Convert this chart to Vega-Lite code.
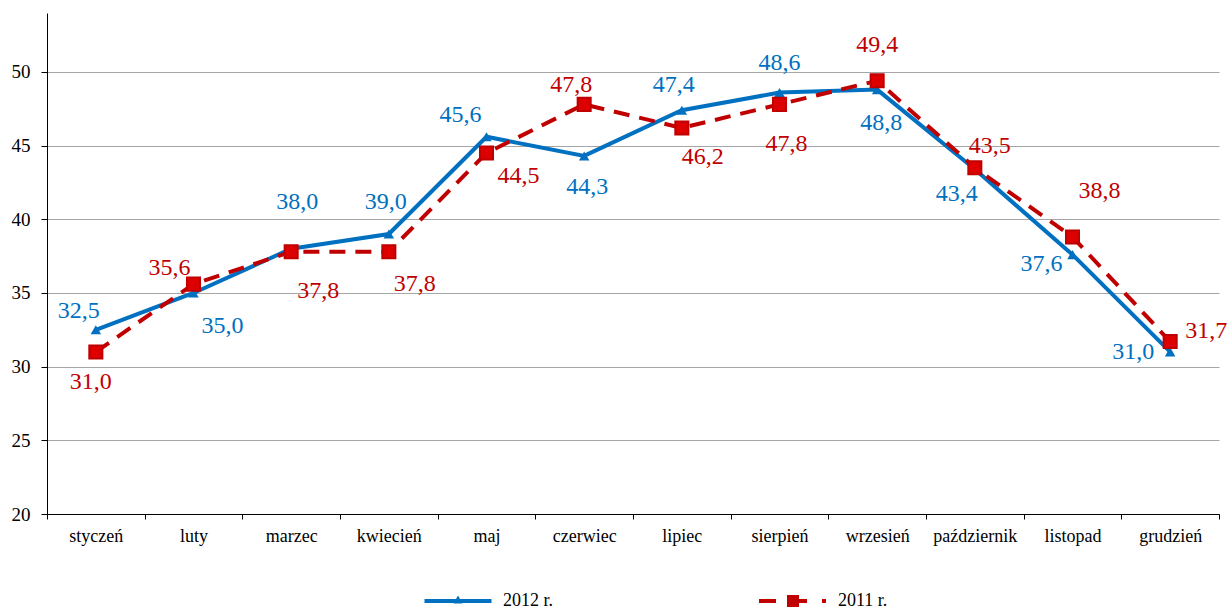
{
  "$schema": "https://vega.github.io/schema/vega-lite/v6.json",
  "width": 1172,
  "height": 501,
  "autosize": {"type": "none"},
  "padding": {"left": 47, "top": 13, "right": 11, "bottom": 95},
  "background": "white",
  "config": {
    "view": {"stroke": null},
    "locale": {"number": {"decimal": ",", "thousands": " ", "grouping": [3], "currency": ["", " zł"]}},
    "text": {"font": "Times New Roman", "fontSize": 24, "align": "center", "baseline": "middle"}
  },
  "data": {
    "values": [
      {"m": "styczeń", "s": "2012 r.", "v": 32.5},
      {"m": "luty", "s": "2012 r.", "v": 35.0},
      {"m": "marzec", "s": "2012 r.", "v": 38.0},
      {"m": "kwiecień", "s": "2012 r.", "v": 39.0},
      {"m": "maj", "s": "2012 r.", "v": 45.6},
      {"m": "czerwiec", "s": "2012 r.", "v": 44.3},
      {"m": "lipiec", "s": "2012 r.", "v": 47.4},
      {"m": "sierpień", "s": "2012 r.", "v": 48.6},
      {"m": "wrzesień", "s": "2012 r.", "v": 48.8},
      {"m": "październik", "s": "2012 r.", "v": 43.4},
      {"m": "listopad", "s": "2012 r.", "v": 37.6},
      {"m": "grudzień", "s": "2012 r.", "v": 31.0},
      {"m": "styczeń", "s": "2011 r.", "v": 31.0},
      {"m": "luty", "s": "2011 r.", "v": 35.6},
      {"m": "marzec", "s": "2011 r.", "v": 37.8},
      {"m": "kwiecień", "s": "2011 r.", "v": 37.8},
      {"m": "maj", "s": "2011 r.", "v": 44.5},
      {"m": "czerwiec", "s": "2011 r.", "v": 47.8},
      {"m": "lipiec", "s": "2011 r.", "v": 46.2},
      {"m": "sierpień", "s": "2011 r.", "v": 47.8},
      {"m": "wrzesień", "s": "2011 r.", "v": 49.4},
      {"m": "październik", "s": "2011 r.", "v": 43.5},
      {"m": "listopad", "s": "2011 r.", "v": 38.8},
      {"m": "grudzień", "s": "2011 r.", "v": 31.7}
    ]
  },
  "encoding": {
    "x": {
      "field": "m", "type": "nominal",
      "sort": ["styczeń","luty","marzec","kwiecień","maj","czerwiec","lipiec","sierpień","wrzesień","październik","listopad","grudzień"],
      "scale": {"type": "band", "paddingInner": 0, "paddingOuter": 0},
      "axis": {"title": null, "labelAngle": 0, "tickBand": "extent", "grid": false, "domainColor": "#000", "domainWidth": 1, "tickColor": "#000", "tickSize": 5, "labelFont": "Liberation Serif", "labelFontSize": 18, "labelColor": "#000", "labelPadding": 8}
    },
    "y": {
      "field": "v", "type": "quantitative",
      "scale": {"domain": [20, 54], "nice": false, "zero": false},
      "axis": {"title": null, "values": [20,25,30,35,40,45,50], "grid": true, "gridColor": "#a6a6a6", "gridWidth": 1, "domainColor": "#000", "domainWidth": 1, "tickColor": "#000", "tickSize": 6, "labelFont": "Liberation Serif", "labelFontSize": 19, "labelColor": "#000", "labelPadding": 11}
    }
  },
  "layer": [
    {"transform": [{"filter": "datum.s == '2012 r.'"}], "mark": {"type": "line", "stroke": "#0070C0", "strokeWidth": 4}},
    {"transform": [{"filter": "datum.s == '2012 r.'"}], "mark": {"type": "point", "shape": "triangle-up", "filled": true, "fill": "#0070C0", "opacity": 1, "size": 110}},
    {"transform": [{"filter": "datum.s == '2011 r.'"}], "mark": {"type": "line", "stroke": "#C00000", "strokeWidth": 4, "strokeDash": [16, 10], "strokeCap": "butt"}},
    {"transform": [{"filter": "datum.s == '2011 r.'"}], "mark": {"type": "point", "shape": "square", "filled": true, "fill": "#DD0000", "stroke": "#C00000", "strokeWidth": 2, "opacity": 1, "size": 170}},
    {
      "mark": {"type": "point", "filled": true, "opacity": 0},
      "encoding": {
        "color": {"field": "s", "type": "nominal", "scale": {"domain": ["2012 r.", "2011 r."], "range": ["#0070C0", "#C00000"]},
          "legend": {"title": null, "orient": "none", "legendX": 401, "legendY": 578, "direction": "horizontal", "symbolSize": 400, "symbolStrokeWidth": 0, "symbolOpacity": 1, "labelOffset": 35, "columnPadding": 205, "labelFont": "Liberation Serif", "labelFontSize": 18, "labelColor": "#000", "padding": 0}},
        "shape": {"field": "s", "type": "nominal", "scale": {"domain": ["2012 r.", "2011 r."], "range": ["M-3.35,-0.2H3.35V0.2H-3.35Z M0,-0.55L0.45,0.25H-0.45Z", "M-3.4,-0.2H-1.7V0.2H-3.4Z M-0.6,-0.6H0.6V0.6H-0.6Z M0.6,-0.2H1.4V0.2H0.6Z M2.9,-0.2H3.3V0.2H2.9Z"]},
          "legend": {"title": null, "orient": "none", "legendX": 401, "legendY": 578, "direction": "horizontal", "symbolSize": 400, "symbolStrokeWidth": 0, "symbolOpacity": 1, "labelOffset": 35, "columnPadding": 205, "labelFont": "Liberation Serif", "labelFontSize": 18, "labelColor": "#000", "padding": 0}}
      }
    },
    {"transform": [{"filter": "datum.s == '2012 r.' && datum.m == 'styczeń'"}], "mark": {"type": "text", "font": "Times New Roman", "fontSize": 24, "fill": "#0070C0", "dx": -17, "dy": -19}, "encoding": {"text": {"field": "v", "format": ".1f"}}},
    {"transform": [{"filter": "datum.s == '2012 r.' && datum.m == 'luty'"}], "mark": {"type": "text", "font": "Times New Roman", "fontSize": 24, "fill": "#0070C0", "dx": 29, "dy": 33}, "encoding": {"text": {"field": "v", "format": ".1f"}}},
    {"transform": [{"filter": "datum.s == '2012 r.' && datum.m == 'marzec'"}], "mark": {"type": "text", "font": "Times New Roman", "fontSize": 24, "fill": "#0070C0", "dx": 6, "dy": -47}, "encoding": {"text": {"field": "v", "format": ".1f"}}},
    {"transform": [{"filter": "datum.s == '2012 r.' && datum.m == 'kwiecień'"}], "mark": {"type": "text", "font": "Times New Roman", "fontSize": 24, "fill": "#0070C0", "dx": -3, "dy": -32}, "encoding": {"text": {"field": "v", "format": ".1f"}}},
    {"transform": [{"filter": "datum.s == '2012 r.' && datum.m == 'maj'"}], "mark": {"type": "text", "font": "Times New Roman", "fontSize": 24, "fill": "#0070C0", "dx": -26, "dy": -22}, "encoding": {"text": {"field": "v", "format": ".1f"}}},
    {"transform": [{"filter": "datum.s == '2012 r.' && datum.m == 'czerwiec'"}], "mark": {"type": "text", "font": "Times New Roman", "fontSize": 24, "fill": "#0070C0", "dx": 3, "dy": 31}, "encoding": {"text": {"field": "v", "format": ".1f"}}},
    {"transform": [{"filter": "datum.s == '2012 r.' && datum.m == 'lipiec'"}], "mark": {"type": "text", "font": "Times New Roman", "fontSize": 24, "fill": "#0070C0", "dx": -8, "dy": -25}, "encoding": {"text": {"field": "v", "format": ".1f"}}},
    {"transform": [{"filter": "datum.s == '2012 r.' && datum.m == 'sierpień'"}], "mark": {"type": "text", "font": "Times New Roman", "fontSize": 24, "fill": "#0070C0", "dx": 0, "dy": -30}, "encoding": {"text": {"field": "v", "format": ".1f"}}},
    {"transform": [{"filter": "datum.s == '2012 r.' && datum.m == 'wrzesień'"}], "mark": {"type": "text", "font": "Times New Roman", "fontSize": 24, "fill": "#0070C0", "dx": 4, "dy": 33}, "encoding": {"text": {"field": "v", "format": ".1f"}}},
    {"transform": [{"filter": "datum.s == '2012 r.' && datum.m == 'październik'"}], "mark": {"type": "text", "font": "Times New Roman", "fontSize": 24, "fill": "#0070C0", "dx": -18, "dy": 25}, "encoding": {"text": {"field": "v", "format": ".1f"}}},
    {"transform": [{"filter": "datum.s == '2012 r.' && datum.m == 'listopad'"}], "mark": {"type": "text", "font": "Times New Roman", "fontSize": 24, "fill": "#0070C0", "dx": -31, "dy": 9}, "encoding": {"text": {"field": "v", "format": ".1f"}}},
    {"transform": [{"filter": "datum.s == '2012 r.' && datum.m == 'grudzień'"}], "mark": {"type": "text", "font": "Times New Roman", "fontSize": 24, "fill": "#0070C0", "dx": -37, "dy": 0}, "encoding": {"text": {"field": "v", "format": ".1f"}}},
    {"transform": [{"filter": "datum.s == '2011 r.' && datum.m == 'styczeń'"}], "mark": {"type": "text", "font": "Times New Roman", "fontSize": 24, "fill": "#C00000", "dx": -5, "dy": 30}, "encoding": {"text": {"field": "v", "format": ".1f"}}},
    {"transform": [{"filter": "datum.s == '2011 r.' && datum.m == 'luty'"}], "mark": {"type": "text", "font": "Times New Roman", "fontSize": 24, "fill": "#C00000", "dx": -24, "dy": -16}, "encoding": {"text": {"field": "v", "format": ".1f"}}},
    {"transform": [{"filter": "datum.s == '2011 r.' && datum.m == 'marzec'"}], "mark": {"type": "text", "font": "Times New Roman", "fontSize": 24, "fill": "#C00000", "dx": 27, "dy": 39}, "encoding": {"text": {"field": "v", "format": ".1f"}}},
    {"transform": [{"filter": "datum.s == '2011 r.' && datum.m == 'kwiecień'"}], "mark": {"type": "text", "font": "Times New Roman", "fontSize": 24, "fill": "#C00000", "dx": 26, "dy": 32}, "encoding": {"text": {"field": "v", "format": ".1f"}}},
    {"transform": [{"filter": "datum.s == '2011 r.' && datum.m == 'maj'"}], "mark": {"type": "text", "font": "Times New Roman", "fontSize": 24, "fill": "#C00000", "dx": 32, "dy": 23}, "encoding": {"text": {"field": "v", "format": ".1f"}}},
    {"transform": [{"filter": "datum.s == '2011 r.' && datum.m == 'czerwiec'"}], "mark": {"type": "text", "font": "Times New Roman", "fontSize": 24, "fill": "#C00000", "dx": -13, "dy": -19}, "encoding": {"text": {"field": "v", "format": ".1f"}}},
    {"transform": [{"filter": "datum.s == '2011 r.' && datum.m == 'lipiec'"}], "mark": {"type": "text", "font": "Times New Roman", "fontSize": 24, "fill": "#C00000", "dx": 21, "dy": 29}, "encoding": {"text": {"field": "v", "format": ".1f"}}},
    {"transform": [{"filter": "datum.s == '2011 r.' && datum.m == 'sierpień'"}], "mark": {"type": "text", "font": "Times New Roman", "fontSize": 24, "fill": "#C00000", "dx": 7, "dy": 40}, "encoding": {"text": {"field": "v", "format": ".1f"}}},
    {"transform": [{"filter": "datum.s == '2011 r.' && datum.m == 'wrzesień'"}], "mark": {"type": "text", "font": "Times New Roman", "fontSize": 24, "fill": "#C00000", "dx": 0, "dy": -36}, "encoding": {"text": {"field": "v", "format": ".1f"}}},
    {"transform": [{"filter": "datum.s == '2011 r.' && datum.m == 'październik'"}], "mark": {"type": "text", "font": "Times New Roman", "fontSize": 24, "fill": "#C00000", "dx": 15, "dy": -22}, "encoding": {"text": {"field": "v", "format": ".1f"}}},
    {"transform": [{"filter": "datum.s == '2011 r.' && datum.m == 'listopad'"}], "mark": {"type": "text", "font": "Times New Roman", "fontSize": 24, "fill": "#C00000", "dx": 27, "dy": -46}, "encoding": {"text": {"field": "v", "format": ".1f"}}},
    {"transform": [{"filter": "datum.s == '2011 r.' && datum.m == 'grudzień'"}], "mark": {"type": "text", "font": "Times New Roman", "fontSize": 24, "fill": "#C00000", "dx": 36, "dy": -11}, "encoding": {"text": {"field": "v", "format": ".1f"}}}
  ]
}
